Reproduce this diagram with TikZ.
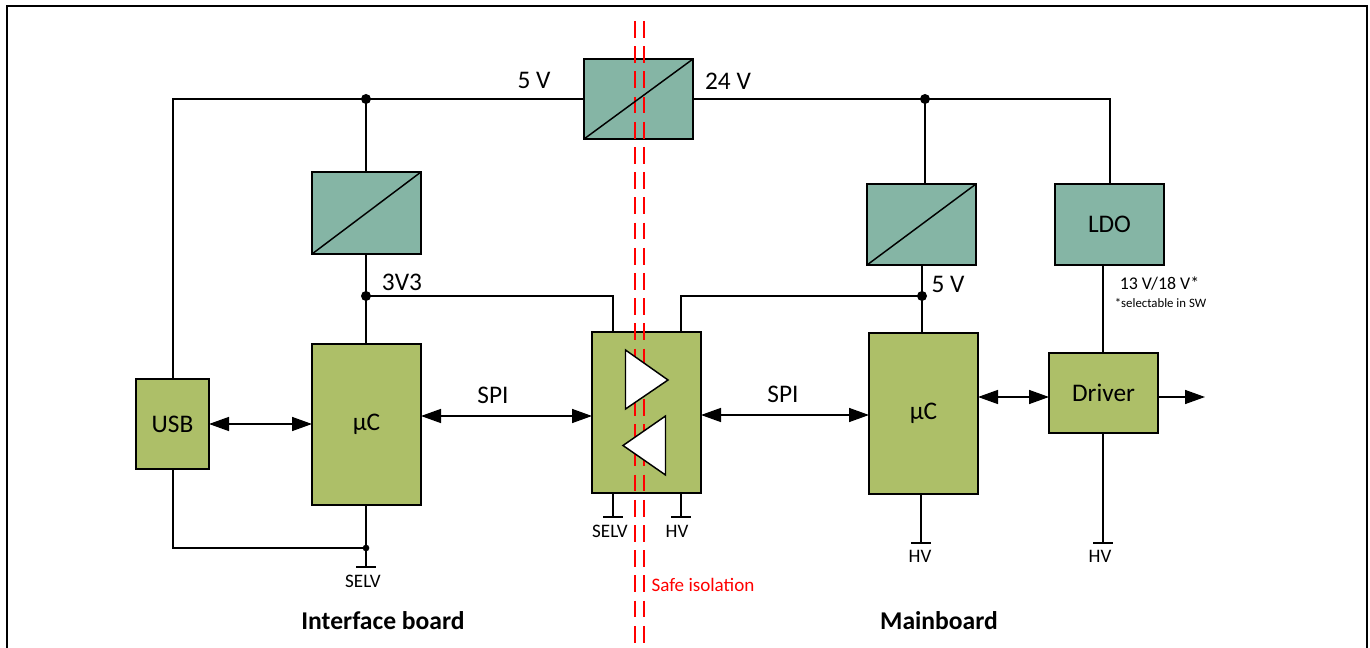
\documentclass[tikz,border=0pt]{standalone}
\usepackage{fontspec}
\setmainfont{Carlito}
\usetikzlibrary{arrows.meta}
\definecolor{teal1}{HTML}{85B5A5}
\definecolor{olive1}{HTML}{ADBF68}
\tikzset{
  x=0.75pt,y=-0.75pt,
  wire/.style={draw=black,line width=1.1pt},
  box/.style={draw=black,line width=1.1pt,rectangle,inner sep=0pt,outer sep=0pt,anchor=north west,font=\fontsize{19pt}{21pt}\selectfont},
  conv/.style={box,fill=teal1},
  ctrl/.style={box,fill=olive1},
  dot/.style={circle,fill=black,inner sep=0pt,minimum size=7.5pt},
  smalldot/.style={circle,fill=black,inner sep=0pt,minimum size=5pt},
  lbl/.style={inner sep=0pt,font=\fontsize{19pt}{21pt}\selectfont},
  gnd/.style={inner sep=0pt,font=\fontsize{14.3pt}{16pt}\selectfont},
  head/.style={inner sep=0pt,font=\fontsize{19.2pt}{21pt}\selectfont\bfseries},
  arr/.style={wire,{Triangle[length=15pt,width=10.5pt]}-{Triangle[length=15pt,width=10.5pt]}},
  arrone/.style={wire,-{Triangle[length=15pt,width=10.5pt]}},
  iso/.style={draw=red,line width=1.4pt,dash pattern=on 12.6pt off 6.3pt},
  tri/.style={draw=black,fill=white,line width=1.1pt,line join=miter},
}
\newcommand{\bx}[7]{\node[#1,minimum width=#5*0.75pt-#3*0.75pt,minimum height=#6*0.75pt-#4*0.75pt] (#2) at (#3,#4) {#7};}
\begin{document}
\begin{tikzpicture}
\useasboundingbox (0,0) rectangle (1370,648);
\draw[line width=1.7pt,draw=black] (7,660) -- (7,6) -- (1367,6) -- (1367,660);
\clip (0,0) rectangle (1370,648);
% boxes
\bx{conv}{top}{584}{59}{693}{139}{}
\bx{conv}{cl}{312}{172}{421}{254}{}
\bx{conv}{cr}{867}{184}{976}{265}{}
\bx{conv}{ldo}{1055}{184}{1164}{265}{LDO}
\bx{ctrl}{usb}{136}{379}{209}{469}{USB}
\bx{ctrl}{ul}{312}{344}{421}{505}{µC}
\bx{ctrl}{isob}{592}{332}{701}{493}{}
\bx{ctrl}{ur}{869}{333}{978}{494}{µC}
\bx{ctrl}{drv}{1049}{353}{1158}{433}{Driver}
% diagonal in converters
\draw[wire] (cl.south west) -- (cl.north east);
\draw[wire] (cr.south west) -- (cr.north east);
% named points
\coordinate (j5) at (366,99);
\coordinate (j24) at (925,99);
\coordinate (j33) at (366,296);
\coordinate (j5r) at (922,296);
\coordinate (jg) at (366,548);
\coordinate (gl) at (366,567);
\coordinate (gi1) at (613,517);
\coordinate (gi2) at (681,517);
\coordinate (gr) at (921,543);
\coordinate (gd) at (1103,543);
\coordinate (out) at (1205,397);
% rails
\draw[wire] (usb.north -| 173,0) |- (top.west |- j5);
\draw[wire] (j5) -- (j5 |- cl.north);
\draw[wire] (j5 |- cl.south) -- (j5 |- ul.north);
\draw[wire] (top.east |- j24) -| (1110,184);
\draw[wire] (j24) -- (j24 |- cr.north);
\draw[wire] (j5r |- cr.south) -- (j5r |- ur.north);
\draw[wire] (j33) -| (613,332);
\draw[wire] (j5r) -| (681,332);
\draw[wire] (1103,265) -- (1103,353);
\draw[wire] (173,469) |- (jg);
\draw[wire] (j5 |- ul.south) -- (gl);
\draw[wire] (gi1 |- isob.south) -- (gi1);
\draw[wire] (gi2 |- isob.south) -- (gi2);
\draw[wire] (gr |- ur.south) -- (gr);
\draw[wire] (gd |- drv.south) -- (gd);
% ground bars
\draw[wire] ([xshift=-7.5pt]gl) -- ([xshift=7.5pt]gl);
\draw[wire] ([xshift=-7.5pt]gi1) -- ([xshift=7.5pt]gi1);
\draw[wire] ([xshift=-7.5pt]gi2) -- ([xshift=7.5pt]gi2);
\draw[wire] ([xshift=-7.5pt]gr) -- ([xshift=7.5pt]gr);
\draw[wire] ([xshift=-7.5pt]gd) -- ([xshift=7.5pt]gd);
% junctions
\node[dot] (d1) at (j5) {};
\node[dot] (d2) at (j24) {};
\node[dot] (d3) at (j33) {};
\node[dot] (d4) at (j5r) {};
\node[smalldot] (d5) at (jg) {};
% isolation
\draw[iso] (635,21) -- (635,648);
\draw[iso] (644,21) -- (644,648);
\draw[wire] (top.south west) -- (top.north east);
% triangles
\draw[tri] (625.5,350) -- (625.5,409) -- (668,380) -- cycle;
\draw[tri] (623,445.5) -- (665.5,416) -- (665.5,475) -- cycle;
% arrows
\draw[arr] (usb.east |- 0,424) -- (ul.west |- 0,424);
\draw[arr] (ul.east |- 0,416) -- (isob.west |- 0,416);
\draw[arr] (isob.east |- 0,415) -- (ur.west |- 0,415);
\draw[arr] (ur.east |- 0,397) -- (drv.west |- 0,397);
\draw[arrone] (drv.east |- out) -- (out);
% labels
\node[lbl] (t5) at (534,80) {5 V};
\node[lbl] (t24) at (728,81) {24 V};
\node[lbl] (t33) at (402,282) {3V3};
\node[lbl] (t5r) at (948,284) {5 V};
\node[lbl] (s1) at (493,395) {SPI};
\node[lbl] (s2) at (783,394) {SPI};
\node[inner sep=0pt,font=\fontsize{13.4pt}{15pt}\selectfont] (t13) at (1159.5,284) {13 V/18 V*};
\node[inner sep=0pt,font=\fontsize{9.6pt}{11pt}\selectfont] (tsel) at (1160.5,303) {*selectable in SW};
\node[gnd] (g1) at (363,581) {SELV};
\node[gnd] (g2) at (610,531) {SELV};
\node[gnd] (g3) at (677,531) {HV};
\node[gnd] (g4) at (920,556) {HV};
\node[gnd] (g5) at (1100,556) {HV};
\node[inner sep=0pt,text=red,font=\fontsize{14.3pt}{16pt}\selectfont] (si) at (703,585) {Safe isolation};
\node[head] (h1) at (383,621) {Interface board};
\node[head] (h2) at (939,621) {Mainboard};
\end{tikzpicture}
\end{document}
